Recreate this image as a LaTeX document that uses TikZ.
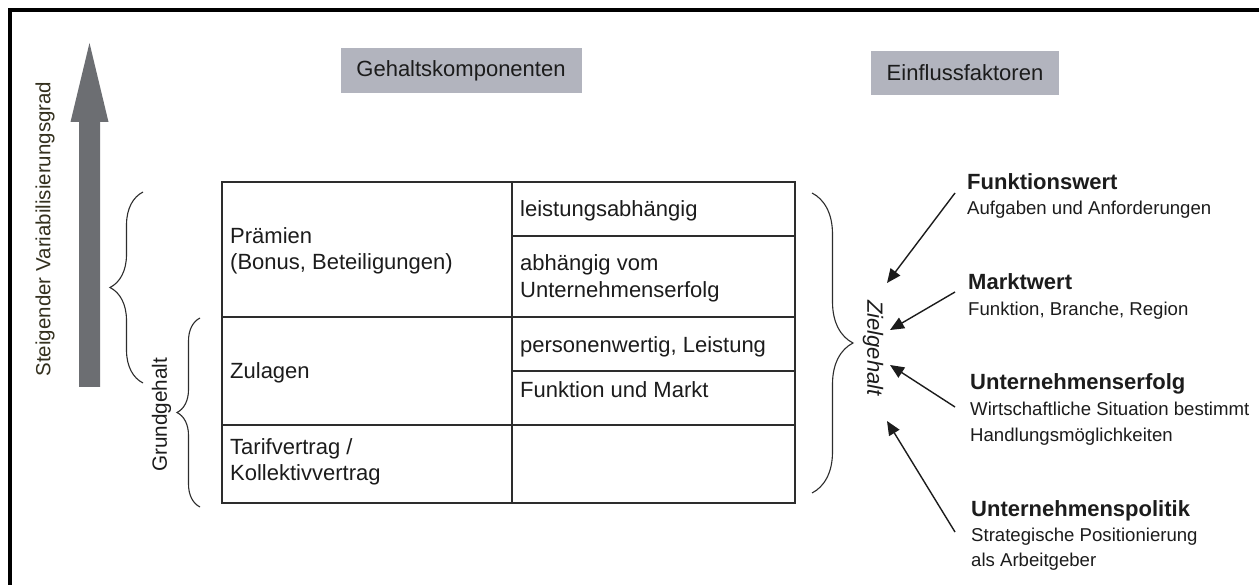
\documentclass[tikz,border=0pt]{standalone}
\usepackage{fontspec}
\setmainfont{Liberation Sans}
\usetikzlibrary{decorations.pathreplacing,arrows.meta}
\definecolor{hdrgray}{RGB}{178,180,190}
\definecolor{arrgray}{RGB}{108,110,114}
\definecolor{linegray}{RGB}{45,45,45}
\definecolor{txt}{RGB}{28,28,28}
\definecolor{olivetxt}{RGB}{52,48,30}
\begin{document}
\begin{tikzpicture}[x=1pt,y=-1pt,
  cell/.style={draw=linegray,line width=1.1pt,inner sep=0pt},
  tbl/.style={anchor=base west,inner sep=0pt,text=txt,font=\fontsize{22}{26}\selectfont},
  head/.style={anchor=base west,inner sep=0pt,text=txt,font=\fontsize{22}{26}\selectfont\bfseries},
  sub/.style={anchor=base west,inner sep=0pt,text=txt,font=\fontsize{18.6}{22}\selectfont},
  hdr/.style={fill=hdrgray,inner sep=0pt,text=txt,font=\fontsize{22}{26}\selectfont},
  brc/.style={draw=linegray,line width=1.1pt,decorate},
  conn/.style={draw=txt,line width=1.4pt,-{Triangle[length=14pt,width=12pt]}}]
\useasboundingbox (0,0) rectangle (1259,585);
\fill[white] (0,0) rectangle (1259,585);
% frame
\draw[line width=3.5pt,black] (10,585) -- (10,10) -- (1259,10);

% big arrow
\fill[arrgray] (79,387) -- (100,387) -- (100,122) -- (108.5,122) -- (89.5,43)
  -- (70.5,122) -- (79,122) -- cycle;
\node[rotate=90,inner sep=0pt,text=olivetxt,font=\fontsize{20.5}{24}\selectfont] (steig) at (45,229) {Steigender Variabilisierungsgrad};

% header boxes
\node[hdr,minimum width=241pt,minimum height=45pt] (gk) at (461,70.5) {Gehaltskomponenten};
\node[hdr,minimum width=188pt,minimum height=44pt] (ef) at (965,73) {Einflussfaktoren};

% table cells
\node[cell,minimum width=290pt,minimum height=135pt] (praem) at (367,249.5) {};
\node[cell,minimum width=290pt,minimum height=108pt] (zul) at (367,371) {};
\node[cell,minimum width=290pt,minimum height=78pt] (tarif) at (367,464) {};
\node[cell,minimum width=283pt,minimum height=54pt] (leist) at (653.5,209) {};
\node[cell,minimum width=283pt,minimum height=81pt] (abh) at (653.5,276.5) {};
\node[cell,minimum width=283pt,minimum height=54pt] (pers) at (653.5,344) {};
\node[cell,minimum width=283pt,minimum height=54pt] (funk) at (653.5,398) {};
\node[cell,minimum width=283pt,minimum height=78pt] (leer) at (653.5,464) {};

% table texts
\node[tbl] (t1) at (230,244) {Prämien};
\node[tbl] (t2) at (230,270) {(Bonus, Beteiligungen)};
\node[tbl] (t3) at (230,379) {Zulagen};
\node[tbl] (t4) at (230,454) {Tarifvertrag /};
\node[tbl] (t5) at (230,480) {Kollektivvertrag};
\node[tbl] (r1) at (520,217) {leistungsabhängig};
\node[tbl] (r2) at (520,271) {abhängig vom};
\node[tbl] (r3) at (520,298) {Unternehmenserfolg};
\node[tbl] (r4) at (520,352.5) {personenwertig, Leistung};
\node[tbl] (r5) at (520,397) {Funktion und Markt};

% braces
\coordinate (b1s) at (143,383); \coordinate (b1e) at (143,192);
\coordinate (b2s) at (200,507); \coordinate (b2e) at (200,318);
\coordinate (b3s) at (812,193); \coordinate (b3e) at (812,493);
\draw[brc,decoration={brace,amplitude=33pt}] (b1s) -- (b1e);
\draw[brc,decoration={brace,amplitude=23pt}] (b2s) -- (b2e);
\draw[brc,decoration={brace,amplitude=41pt}] (b3s) -- (b3e);
\node[rotate=90,inner sep=0pt,text=txt,font=\fontsize{20.7}{24}\selectfont] (grund) at (161.5,415) {Grundgehalt};
\node[rotate=-90,inner sep=0pt,text=txt,font=\fontsize{22}{26}\selectfont\itshape] (ziel) at (873,348) {Zielgehalt};

% influence factors
\node[head] (h1) at (967,190) {Funktionswert};
\node[sub] (s1) at (967,215) {Aufgaben und Anforderungen};
\node[head] (h2) at (968,289.5) {Marktwert};
\node[sub] (s2) at (968,315.5) {Funktion, Branche, Region};
\node[head] (h3) at (970,390) {Unternehmenserfolg};
\node[sub] (s3a) at (970,416) {Wirtschaftliche Situation bestimmt};
\node[sub] (s3b) at (970,441) {Handlungsmöglichkeiten};
\node[head] (h4) at (971,516.5) {Unternehmenspolitik};
\node[sub] (s4a) at (971,541.5) {Strategische Positionierung};
\node[sub] (s4b) at (971,566.5) {als Arbeitgeber};

% arrows
\coordinate (a1s) at (955,193); \coordinate (a1e) at (887,283);
\coordinate (a2s) at (955,292); \coordinate (a2e) at (890,330);
\coordinate (a3s) at (955,407); \coordinate (a3e) at (890,365);
\coordinate (a4s) at (955,532); \coordinate (a4e) at (887,421);
\draw[conn] (a1s) -- (a1e);
\draw[conn] (a2s) -- (a2e);
\draw[conn] (a3s) -- (a3e);
\draw[conn] (a4s) -- (a4e);
\end{tikzpicture}
\end{document}
